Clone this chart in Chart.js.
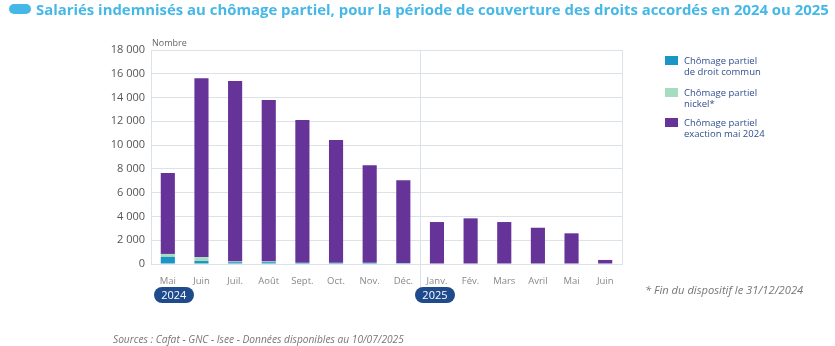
<!DOCTYPE html>
<html><head><meta charset="utf-8">
<script src="https://cdn.jsdelivr.net/npm/chart.js@4.4.0/dist/chart.umd.min.js"></script>
<style>
html,body{margin:0;padding:0;background:#fff;width:835px;height:346px;overflow:hidden;font-family:"Open Sans",sans-serif;}
#wrap{position:relative;width:835px;height:346px;}
canvas{position:absolute;left:0;top:0;}
.abs{position:absolute;white-space:nowrap;}
#title{left:36px;top:-1px;font-size:14.9px;font-weight:700;color:#45b8e8;letter-spacing:0px;}
#pill{left:9px;top:4px;width:22px;height:10px;border-radius:5px;background:#45b8e8;}
.leg{position:absolute;left:665px;font-size:9.5px;line-height:11px;color:#2f4f8f;white-space:nowrap;}
.leg i{position:absolute;left:0;top:1px;width:13px;height:9px;}
.leg span{position:absolute;left:19px;top:0;white-space:nowrap;}
.badge{position:absolute;top:287px;height:16px;width:40px;border-radius:8px;background:#1f4a8c;color:#fff;font-size:11px;line-height:16px;text-align:center;}
.note{font-style:italic;color:#777;}
</style></head>
<body><div id="wrap">
<canvas id="c" width="835" height="346"></canvas>
<div id="pill" class="abs"></div>
<div id="title" class="abs">Salariés indemnisés au chômage partiel, pour la période de couverture des droits accordés en 2024 ou 2025</div>
<div class="abs" style="left:152px;top:36px;font-size:9px;color:#666;">Nombre</div>
<div class="leg" style="top:55px"><i style="background:#1b95c4"></i><span>Chômage partiel<br>de droit commun</span></div>
<div class="leg" style="top:87px"><i style="background:#a6dcc0"></i><span>Chômage partiel<br>nickel*</span></div>
<div class="leg" style="top:117px"><i style="background:#663399"></i><span>Chômage partiel<br>exaction mai 2024</span></div>
<div id="b1" class="badge">2024</div>
<div id="b2" class="badge">2025</div>
<div class="abs note" style="left:645px;top:282px;font-size:11.2px;">* Fin du dispositif le 31/12/2024</div>
<div class="abs note" style="left:113px;top:332px;font-size:10.2px;">Sources : Cafat - GNC - Isee - Données disponibles au 10/07/2025</div>
</div>
<script>
const categories = ["Mai","Juin","Juil.","Août","Sept.","Oct.","Nov.","Déc.","Janv.","Fév.","Mars","Avril","Mai","Juin"];
const years = ["2024","2025"];
const droitCommun = [600,250,150,150,100,100,100,80,0,0,0,0,0,0];
const nickel = [250,330,60,60,0,0,0,0,0,0,0,0,0,0];
const exaction = [6800,15040,15180,13590,12010,10330,8200,6960,3530,3840,3530,3050,2580,340];
const yTicks = [0,2000,4000,6000,8000,10000,12000,14000,16000,18000];

const fmt = v => String(v).replace(/\B(?=(\d{3})+(?!\d))/g, " ");

const decor = {
  id:'decor',
  afterDraw(chart){
    const {ctx, chartArea:a, scales:{x}} = chart;
    ctx.save();
    ctx.strokeStyle = '#dbe3e8';
    ctx.lineWidth = 1;
    const xd = Math.round((x.getPixelForValue(7)+x.getPixelForValue(8))/2)+0.5;
    ctx.beginPath();
    ctx.moveTo(xd, a.top); ctx.lineTo(xd, a.bottom+28);
    ctx.moveTo(Math.round(a.right)+0.5, a.top); ctx.lineTo(Math.round(a.right)+0.5, a.bottom);
    ctx.stroke();
    ctx.restore();
    const b1 = document.getElementById('b1'), b2 = document.getElementById('b2');
    b1.style.left = (x.getPixelForValue(0)+6-20)+'px';
    b2.style.left = (x.getPixelForValue(8)-20-2)+'px';
  }
};

new Chart(document.getElementById('c'), {
  type:'bar',
  data:{
    labels:categories,
    datasets:[
      {label:'Chômage partiel de droit commun', data:droitCommun, backgroundColor:'#1b95c4'},
      {label:'Chômage partiel nickel*', data:nickel, backgroundColor:'#a6dcc0'},
      {label:'Chômage partiel exaction mai 2024', data:exaction, backgroundColor:'#663399'}
    ]
  },
  options:{
    responsive:false,
    animation:false,
    layout:{padding:{left:0,right:213,top:50,bottom:0}},
    datasets:{bar:{barPercentage:0.42,categoryPercentage:1}},
    plugins:{legend:{display:false},tooltip:{enabled:false},title:{display:false}},
    scales:{
      x:{stacked:true,
         grid:{display:false},
         border:{color:'#dbe3e8'},
         ticks:{color:'#888',font:{family:'Open Sans',size:9.5},padding:4,maxRotation:0,autoSkip:false},
         afterFit(s){s.height=82;}
      },
      y:{stacked:true,min:0,max:18000,
         afterBuildTicks(s){s.ticks=yTicks.map(v=>({value:v}));},
         grid:{color:'#dbe3e8',drawTicks:false},
         border:{color:'#dbe3e8'},
         ticks:{color:'#555',font:{family:'Open Sans',size:11},padding:6,callback:v=>fmt(v)},
         afterFit(s){s.width=151;}
      }
    }
  },
  plugins:[decor]
});
</script>
</body></html>
